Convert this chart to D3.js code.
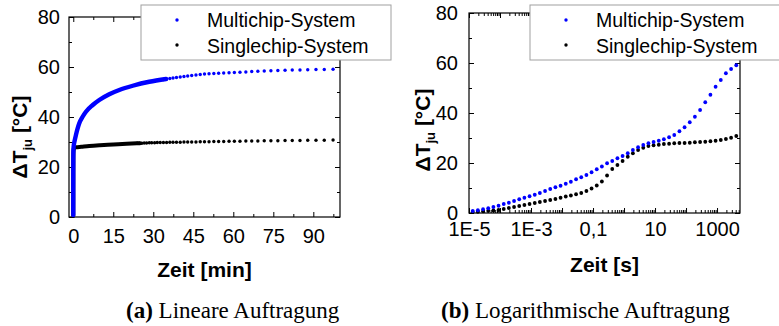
<!DOCTYPE html>
<html>
<head>
<meta charset="utf-8">
<script src="https://cdn.jsdelivr.net/npm/d3@7"></script>
<style>
  body { margin: 0; background: #fff; }
  svg { display: block; }
</style>
</head>
<body>
<div id="chart"></div>
<script>
// ---- data: linear plot (time in min) ----
// dense start of the measurement, drawn as a thick band
const blueLineT = [0, 0.0022, 0.022, 0.07, 0.22, 0.47, 1.0, 2.25, 3.5, 4.75, 7.3, 9.75, 13.5, 17.25, 22.3, 28.5, 34.8];
const blueLineV = [0.8, 17.5, 23.9, 27.2, 28.9, 30.3, 32.8, 37.5, 40.1, 42.1, 44.8, 46.8, 49.1, 50.8, 52.5, 54.1, 55.2];
const blackLineT = [0, 0.0022, 0.022, 0.07, 0.22, 0.47, 1.0, 3, 6, 10, 15, 20, 25];
const blackLineV = [0.4, 10.3, 22.5, 26.1, 27.3, 27.7, 27.9, 28.1, 28.4, 28.7, 29.0, 29.3, 29.5];
// sparse tail, single points
const blueDotT = [33.8, 35.0, 36.2, 37.4, 38.7, 40.1, 41.5, 42.9, 44.4, 46.0, 47.6, 49.2, 50.9, 52.7, 54.5, 56.4,
  58.4, 60.4, 62.5, 64.7, 66.9, 69.2, 71.6, 74.1, 76.7, 79.4, 82.1, 85.0, 87.9, 91.0, 94.1, 97.4];
const blueDotV = [55.0, 55.2, 55.4, 55.6, 55.8, 56.0, 56.2, 56.4, 56.6, 56.8, 57.0, 57.2, 57.3, 57.4, 57.5, 57.6,
  57.7, 57.8, 57.9, 58.0, 58.2, 58.3, 58.4, 58.5, 58.6, 58.7, 58.8, 58.8, 58.9, 59.0, 59.0, 59.1];
const blackDotT = [24.0, 24.8, 25.7, 26.6, 27.5, 28.5, 29.4, 30.5, 31.5, 32.6, 33.8, 35.0, 36.2, 37.4, 38.7, 40.1,
  41.5, 42.9, 44.4, 46.0, 47.6, 49.2, 50.9, 52.7, 54.5, 56.4, 58.4, 60.4, 62.5, 64.7, 66.9, 69.2, 71.6, 74.1,
  76.7, 79.4, 82.1, 85.0, 87.9, 91.0, 94.1, 97.4];
const blackDotV = [29.5, 29.5, 29.5, 29.6, 29.6, 29.7, 29.7, 29.7, 29.8, 29.8, 29.8, 29.8, 29.9, 29.9, 29.9, 29.9,
  30.0, 30.0, 30.0, 30.0, 30.1, 30.1, 30.1, 30.2, 30.2, 30.2, 30.3, 30.3, 30.3, 30.4, 30.4, 30.4, 30.5, 30.5,
  30.5, 30.6, 30.6, 30.6, 30.7, 30.7, 30.7, 30.8];

// ---- data: log plot (time in s) ----
const logT = [
  1.32e-5, 1.93e-5, 2.84e-5, 4.17e-5, 6.12e-5, 8.98e-5,
  1.32e-4, 1.93e-4, 2.84e-4, 4.17e-4, 6.12e-4, 8.98e-4,
  1.32e-3, 1.93e-3, 2.84e-3, 4.17e-3, 6.12e-3, 8.98e-3,
  1.32e-2, 1.93e-2, 2.84e-2, 4.17e-2, 6.12e-2, 8.98e-2,
  0.132, 0.193, 0.284, 0.417, 0.612, 0.898,
  1.32, 1.93, 2.84, 4.17, 6.12, 8.98,
  13.2, 19.3, 28.4, 41.7, 61.2, 89.8,
  132, 193, 284, 417, 612, 898,
  1320, 1930, 2840, 4170];
const blueLog = [0.8, 1.1, 1.5, 1.9, 2.4, 2.9, 3.6, 4.1, 4.8, 5.5,
  6.1, 6.7, 7.3, 8.0, 8.8, 9.6, 10.3, 10.9, 11.7, 12.5,
  13.5, 14.3, 15.2, 16.3, 17.5, 18.6, 19.9, 20.8, 21.9, 22.8,
  23.9, 25.2, 26.3, 27.2, 27.9, 28.4, 28.9, 29.5, 30.3, 31.2,
  32.7, 34.3, 36.3, 38.5, 41.2, 44.3, 47.3, 50.5, 53.2, 55.9,
  57.6, 59.1];
const blackLog = [0.4, 0.5, 0.7, 0.9, 1.0, 1.2, 1.6, 2.0, 2.4, 2.8,
  3.2, 3.6, 4.0, 4.4, 4.8, 5.2, 5.6, 6.1, 6.6, 7.0,
  7.5, 8.0, 8.8, 9.8, 11.0, 12.6, 15.0, 17.6, 19.2, 20.8,
  22.5, 23.9, 25.2, 26.1, 26.8, 27.1, 27.3, 27.6, 27.7, 27.9,
  28.0, 28.0, 28.1, 28.3, 28.4, 28.5, 28.7, 28.9, 29.2, 29.6,
  30.1, 30.8];

// ---- ticks & labels ----
const linXTicks = [0, 15, 30, 45, 60, 75, 90];
const linXMinor = [7.5, 22.5, 37.5, 52.5, 67.5, 82.5, 97.5];
const yTicks = [0, 20, 40, 60, 80];
const yMinor = [10, 30, 50, 70];
const logXTicks = [1e-5, 1e-3, 0.1, 10, 1000];
const logXLabels = ["1E-5", "1E-3", "0,1", "10", "1000"];
const logDecades = [1e-5, 1e-4, 1e-3, 1e-2, 0.1, 1, 10, 100, 1000];
const seriesNames = ["Multichip-System", "Singlechip-System"];
const seriesColors = ["#0000ff", "#000000"];
const captions = [["(a)", " Lineare Auftragung"], ["(b)", " Logarithmische Auftragung"]];

const W = 779, H = 326;
const sans = "'Liberation Sans', Arial, sans-serif";

const svg = d3.select("#chart").append("svg")
    .attr("width", W)
    .attr("height", H);

// draws ticks, frame, labels of one panel
function drawFrame(x, y, opt) {
    let g = svg.append("g");
    let [x0, x1] = x.range();
    let [y0, y1] = y.range(); // y0 = bottom

    // minor ticks first (bottom, top, left, right)
    let minorX = opt.minorX;
    g.append("g").attr("transform", "translate(0," + y0 + ")")
        .call(d3.axisBottom(x).tickValues(minorX).tickSizeInner(-3).tickSizeOuter(0).tickFormat(""));
    g.append("g").attr("transform", "translate(0," + y1 + ")")
        .call(d3.axisTop(x).tickValues(minorX).tickSizeInner(-3).tickSizeOuter(0).tickFormat(""));
    g.append("g").attr("transform", "translate(" + x0 + ",0)")
        .call(d3.axisLeft(y).tickValues(yMinor).tickSizeInner(-3).tickSizeOuter(0).tickFormat(""));
    g.append("g").attr("transform", "translate(" + x1 + ",0)")
        .call(d3.axisRight(y).tickValues(yMinor).tickSizeInner(-3).tickSizeOuter(0).tickFormat(""));

    // major ticks, labelled on bottom and left
    g.append("g").attr("class", "xaxis").attr("transform", "translate(0," + y0 + ")")
        .call(d3.axisBottom(x).tickValues(opt.majorX).tickSizeInner(-5).tickSizeOuter(0)
            .tickPadding(opt.xPad).tickFormat(opt.xFormat));
    g.append("g").attr("transform", "translate(0," + y1 + ")")
        .call(d3.axisTop(x).tickValues(opt.majorX).tickSizeInner(-5).tickSizeOuter(0).tickFormat(""));
    g.append("g").attr("class", "yaxis").attr("transform", "translate(" + x0 + ",0)")
        .call(d3.axisLeft(y).tickValues(yTicks).tickSizeInner(-5).tickSizeOuter(0).tickPadding(opt.yPad));
    g.append("g").attr("transform", "translate(" + x1 + ",0)")
        .call(d3.axisRight(y).tickValues(yTicks).tickSizeInner(-5).tickSizeOuter(0).tickFormat(""));

    g.selectAll(".domain").remove();
    g.selectAll(".tick line").attr("stroke", "#000").attr("stroke-width", 1);
    g.selectAll("text")
        .attr("font-family", sans)
        .attr("font-size", 20)
        .attr("fill", "#000");

    g.append("rect")
        .attr("x", x0).attr("y", y1)
        .attr("width", x1 - x0).attr("height", y0 - y1)
        .attr("fill", "none")
        .attr("stroke", "#000")
        .attr("stroke-width", 1.2);

    // x title
    svg.append("text")
        .attr("x", (x0 + x1) / 2)
        .attr("y", opt.xTitleY)
        .attr("text-anchor", "middle")
        .attr("font-family", sans)
        .attr("font-weight", "bold")
        .attr("font-size", 21)
        .text(opt.xTitle);

    // y title, rotated, with subscript
    let yt = svg.append("text")
        .attr("transform", "translate(" + opt.yTitleX + "," + opt.yTitleY + ") rotate(-90)")
        .attr("text-anchor", "middle")
        .attr("font-family", sans)
        .attr("font-weight", "bold")
        .attr("font-size", 21);
    yt.append("tspan").text("\u0394T");
    yt.append("tspan").attr("font-size", 13).attr("dy", 5).text("ju");
    yt.append("tspan").attr("dy", -5).text(" [\u00b0C]");
}

function drawDots(x, y, xs, ys, color, r) {
    svg.append("g").selectAll("circle")
        .data(xs.map((d, i) => [d, ys[i]]))
        .join("circle")
        .attr("cx", d => x(d[0]))
        .attr("cy", d => y(d[1]))
        .attr("r", r)
        .attr("fill", color);
}

function drawBand(x, y, xs, ys, color, w) {
    let line = d3.line().x(d => x(d[0])).y(d => y(d[1])).curve(d3.curveMonotoneX);
    svg.append("path")
        .attr("d", line(xs.map((d, i) => [d, ys[i]])))
        .attr("fill", "none")
        .attr("stroke", color)
        .attr("stroke-width", w)
        .attr("stroke-linecap", "round")
        .attr("stroke-linejoin", "round");
}

// ---- (a) linear ----
const xL = d3.scaleLinear().domain([-1.6, 100]).range([69, 340]);
const yL = d3.scaleLinear().domain([0, 80]).range([217, 17]);

drawFrame(xL, yL, {
    majorX: linXTicks, minorX: linXMinor, xFormat: d3.format("d"),
    xPad: 12, yPad: 9,
    xTitle: "Zeit [min]", xTitleY: 277,
    yTitleX: 27, yTitleY: 137
});
drawBand(xL, yL, blackLineT, blackLineV, seriesColors[1], 4);
drawDots(xL, yL, blackDotT, blackDotV, seriesColors[1], 1.7);
drawBand(xL, yL, blueLineT, blueLineV, seriesColors[0], 4.4);
drawDots(xL, yL, blueDotT, blueDotV, seriesColors[0], 1.7);

// ---- (b) logarithmic ----
const xR = d3.scaleLog().domain([1e-5, 5500]).range([469, 740]);
const yR = d3.scaleLinear().domain([0, 80]).range([213, 13]);
const logMinor = xR.ticks().filter(t => !logDecades.includes(t));

drawFrame(xR, yR, {
    majorX: logDecades, minorX: logMinor,
    xFormat: d => { let i = logXTicks.indexOf(d); return i < 0 ? "" : logXLabels[i]; },
    xPad: 9, yPad: 11,
    xTitle: "Zeit [s]", xTitleY: 272,
    yTitleX: 430, yTitleY: 130
});
drawDots(xR, yR, logT, blackLog, seriesColors[1], 1.9);
drawDots(xR, yR, logT, blueLog, seriesColors[0], 1.9);

// ---- legends ----
function drawLegend(bx) {
    let lg = svg.append("g").attr("transform", "translate(" + bx + ",5)");
    lg.append("rect")
        .attr("width", 250).attr("height", 55)
        .attr("fill", "#fff")
        .attr("stroke", "#a0a0a0")
        .attr("stroke-width", 1);
    seriesNames.forEach(function (name, i) {
        lg.append("circle")
            .attr("cx", 36).attr("cy", 15 + i * 25)
            .attr("r", 1.7)
            .attr("fill", seriesColors[i]);
        lg.append("text")
            .attr("x", 66).attr("y", 22 + i * 26)
            .attr("font-family", sans)
            .attr("font-size", 19.5)
            .text(name);
    });
}
drawLegend(141);
drawLegend(530);

// ---- captions ----
const capX = [126, 441];
captions.forEach(function (c, i) {
    let t = svg.append("text")
        .attr("x", capX[i]).attr("y", 318)
        .attr("font-family", "'Liberation Serif', 'DejaVu Serif', serif")
        .attr("font-size", 23);
    t.append("tspan").attr("font-weight", "bold").text(c[0]);
    t.append("tspan").text(c[1]);
});
</script>
</body>
</html>
